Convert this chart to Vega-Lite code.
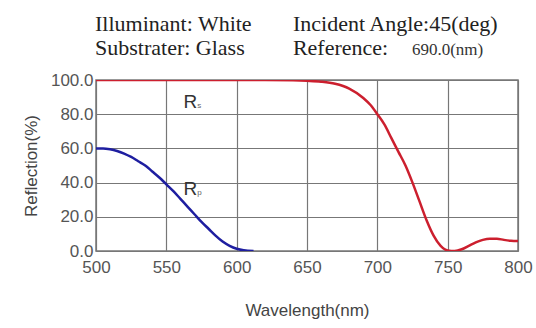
{
  "$schema": "https://vega.github.io/schema/vega-lite/v6.json",
  "width": 422,
  "height": 171,
  "autosize": {"type": "none"},
  "padding": {"left": 96, "top": 80, "right": 18, "bottom": 77},
  "background": "white",
  "config": {
    "view": {"stroke": "#777", "strokeWidth": 1.5},
    "font": "Liberation Sans",
    "axis": {"labelOverlap": false, "labelBound": false, "labelFlush": false}
  },
  "datasets": {
    "curves": [
      {"series": "Rs", "wl": 500, "r": 100}, {"series": "Rs", "wl": 550, "r": 100}, {"series": "Rs", "wl": 600, "r": 100},
      {"series": "Rs", "wl": 620, "r": 100}, {"series": "Rs", "wl": 640, "r": 99.8}, {"series": "Rs", "wl": 650, "r": 99.5},
      {"series": "Rs", "wl": 660, "r": 99}, {"series": "Rs", "wl": 670, "r": 97.8}, {"series": "Rs", "wl": 680, "r": 95},
      {"series": "Rs", "wl": 690, "r": 89.5}, {"series": "Rs", "wl": 695, "r": 85.5}, {"series": "Rs", "wl": 700, "r": 80},
      {"series": "Rs", "wl": 705, "r": 74}, {"series": "Rs", "wl": 710, "r": 66}, {"series": "Rs", "wl": 715, "r": 58},
      {"series": "Rs", "wl": 720, "r": 50}, {"series": "Rs", "wl": 725, "r": 40}, {"series": "Rs", "wl": 730, "r": 29},
      {"series": "Rs", "wl": 735, "r": 18}, {"series": "Rs", "wl": 740, "r": 9}, {"series": "Rs", "wl": 745, "r": 3},
      {"series": "Rs", "wl": 750, "r": 0.3}, {"series": "Rs", "wl": 755, "r": 0}, {"series": "Rs", "wl": 760, "r": 1},
      {"series": "Rs", "wl": 765, "r": 3}, {"series": "Rs", "wl": 770, "r": 5}, {"series": "Rs", "wl": 775, "r": 6.5},
      {"series": "Rs", "wl": 780, "r": 7.2}, {"series": "Rs", "wl": 785, "r": 7.2}, {"series": "Rs", "wl": 790, "r": 6.5},
      {"series": "Rs", "wl": 795, "r": 6}, {"series": "Rs", "wl": 800, "r": 5.8},
      {"series": "Rp", "wl": 500, "r": 60}, {"series": "Rp", "wl": 505, "r": 60}, {"series": "Rp", "wl": 510, "r": 59.5},
      {"series": "Rp", "wl": 515, "r": 58.5}, {"series": "Rp", "wl": 520, "r": 57}, {"series": "Rp", "wl": 525, "r": 55},
      {"series": "Rp", "wl": 530, "r": 52.5}, {"series": "Rp", "wl": 535, "r": 50}, {"series": "Rp", "wl": 540, "r": 46.5},
      {"series": "Rp", "wl": 545, "r": 43}, {"series": "Rp", "wl": 550, "r": 39}, {"series": "Rp", "wl": 555, "r": 35},
      {"series": "Rp", "wl": 560, "r": 30.5}, {"series": "Rp", "wl": 565, "r": 26}, {"series": "Rp", "wl": 570, "r": 21.5},
      {"series": "Rp", "wl": 575, "r": 17}, {"series": "Rp", "wl": 580, "r": 13}, {"series": "Rp", "wl": 585, "r": 9},
      {"series": "Rp", "wl": 590, "r": 5.5}, {"series": "Rp", "wl": 595, "r": 3}, {"series": "Rp", "wl": 600, "r": 1.3},
      {"series": "Rp", "wl": 605, "r": 0.4}, {"series": "Rp", "wl": 612, "r": 0}
    ],
    "labels": [
      {"main": "R", "sub": "s", "wl": 567, "r": 87},
      {"main": "R", "sub": "p", "wl": 567, "r": 36}
    ],
    "header": [
      {"text": "Illuminant: White", "wl": 499.3, "r": 128.7, "size": "big"},
      {"text": "Substrater: Glass", "wl": 499.3, "r": 114.6, "size": "big"},
      {"text": "Incident Angle:45(deg)", "wl": 640, "r": 128.7, "size": "big"},
      {"text": "Reference:", "wl": 640, "r": 114.6, "size": "big"},
      {"text": "690.0(nm)", "wl": 724.6, "r": 114.6, "size": "small"}
    ]
  },
  "encoding": {
    "x": {
      "field": "wl", "type": "quantitative",
      "scale": {"domain": [500, 800], "nice": false, "zero": false},
      "axis": {
        "values": [500, 550, 600, 650, 700, 750, 800], "labelOverlap": false,
        "title": "Wavelength(nm)", "titleFontSize": 17, "titleFontWeight": "normal", "titleColor": "#444",
        "titlePadding": 27, "labelFontSize": 17, "labelColor": "#555", "labelPadding": 8,
        "ticks": false, "domain": false, "grid": true, "gridColor": "#777", "gridWidth": 1.2
      }
    },
    "y": {
      "field": "r", "type": "quantitative",
      "scale": {"domain": [0, 100], "nice": false},
      "axis": {
        "values": [0, 20, 40, 60, 80, 100], "format": ".1f", "labelOverlap": false,
        "title": "Reflection(%)", "titleFontSize": 17, "titleFontWeight": "normal", "titleColor": "#444",
        "titlePadding": 10, "labelFontSize": 17, "labelColor": "#555", "labelPadding": 3,
        "ticks": false, "domain": false, "grid": true, "gridColor": "#777", "gridWidth": 1.2
      }
    }
  },
  "layer": [
    {
      "data": {"name": "curves"},
      "mark": {"type": "line", "strokeWidth": 2.5, "interpolate": "monotone", "clip": true},
      "encoding": {
        "color": {
          "field": "series", "type": "nominal",
          "scale": {"domain": ["Rs", "Rp"], "range": ["#cc1f2e", "#1e1ea0"]},
          "legend": null
        }
      }
    },
    {
      "data": {"name": "labels"},
      "mark": {"type": "text", "fontSize": 19, "color": "#333", "align": "center", "baseline": "middle"},
      "encoding": {"text": {"field": "main"}}
    },
    {
      "data": {"name": "labels"},
      "mark": {"type": "text", "fontSize": 8, "color": "#666", "align": "left", "baseline": "middle", "dx": 7, "dy": 4},
      "encoding": {"text": {"field": "sub"}}
    },
    {
      "data": {"name": "header"},
      "transform": [{"filter": "datum.size == 'big'"}],
      "mark": {"type": "text", "font": "Liberation Serif", "fontSize": 22, "color": "#222", "align": "left", "baseline": "alphabetic", "clip": false},
      "encoding": {"text": {"field": "text"}}
    },
    {
      "data": {"name": "header"},
      "transform": [{"filter": "datum.size == 'small'"}],
      "mark": {"type": "text", "font": "Liberation Serif", "fontSize": 17, "color": "#333", "align": "left", "baseline": "alphabetic", "clip": false},
      "encoding": {"text": {"field": "text"}}
    }
  ]
}
